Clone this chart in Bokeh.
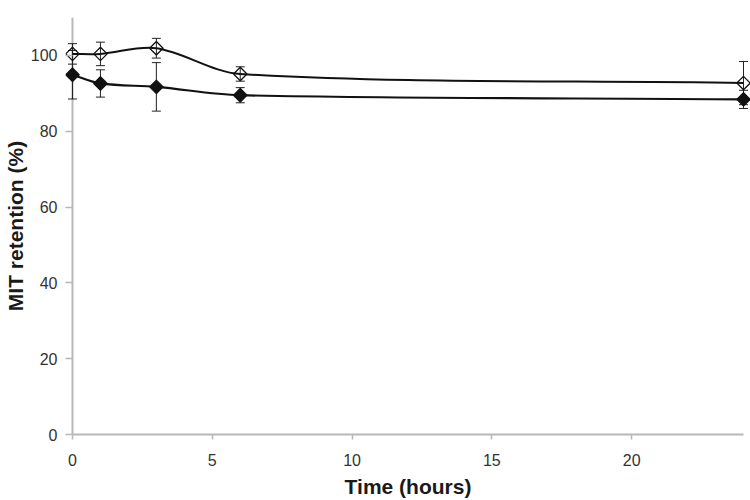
import numpy as np
from bokeh.plotting import figure
from bokeh.models import ColumnDataSource, Whisker, TeeHead, Range1d, Span
from bokeh.embed import file_html
from bokeh.resources import INLINE

# ---- data ----
time_h = [0, 1, 3, 6, 24]
open_mean = [100.4, 100.4, 101.9, 95.1, 92.7]
open_err = [2.7, 3.1, 2.6, 1.9, 5.7]
filled_mean = [94.9, 92.6, 91.7, 89.5, 88.4]
filled_err = [6.4, 3.6, 6.4, 2.0, 2.4]
x_ticks = [0, 5, 10, 15, 20]
y_ticks = [0, 20, 40, 60, 80, 100]

FONT = "Liberation Sans"
AXIS_GRAY = "#b8b8b8"


def smooth_segments(xs, ys):
    """Cubic Bezier segments (Hermite with finite-difference slopes)."""
    xs = np.asarray(xs, float)
    ys = np.asarray(ys, float)
    n = len(xs)
    m = np.zeros(n)
    for i in range(n):
        if i == 0:
            m[i] = (ys[1] - ys[0]) / (xs[1] - xs[0])
        elif i == n - 1:
            m[i] = (ys[-1] - ys[-2]) / (xs[-1] - xs[-2])
        else:
            m[i] = (ys[i + 1] - ys[i - 1]) / (xs[i + 1] - xs[i - 1])
    h = xs[1:] - xs[:-1]
    return dict(
        x0=xs[:-1], y0=ys[:-1], x1=xs[1:], y1=ys[1:],
        cx0=xs[:-1] + h / 3, cy0=ys[:-1] + m[:-1] * h / 3,
        cx1=xs[1:] - h / 3, cy1=ys[1:] - m[1:] * h / 3,
    )


p = figure(width=750, height=500, output_backend="svg", toolbar_location=None,
           x_range=Range1d(-0.25, 24.25), y_range=Range1d(0, 110),
           min_border_left=0, min_border_right=0, min_border_top=17, min_border_bottom=0)
p.outline_line_color = None
p.xgrid.grid_line_color = None
p.ygrid.grid_line_color = None
p.background_fill_color = "white"
p.border_fill_color = "white"

for ax in (p.xaxis[0], p.yaxis[0]):
    ax.axis_line_color = AXIS_GRAY
    ax.axis_line_width = 2
    ax.major_tick_line_color = AXIS_GRAY
    ax.major_tick_line_width = 1.5
    ax.major_tick_out = 5
    ax.major_tick_in = 0
    ax.minor_tick_line_color = None
    ax.major_label_text_font = FONT
    ax.major_label_text_font_size = "16px"
    ax.major_label_text_color = "#333333"
    ax.axis_label_text_font = FONT
    ax.axis_label_text_font_size = "21px"
    ax.axis_label_text_font_style = "bold"
    ax.axis_label_text_color = "#1a1a1a"

p.xaxis.ticker = x_ticks
p.yaxis.ticker = y_ticks
p.xaxis.bounds = (0, 24)
p.xaxis.axis_label = "Time (hours)"
p.yaxis.axis_label = "MIT retention (%)"
p.xaxis.major_label_standoff = 14
p.xaxis.axis_label_standoff = 6

# y axis: ticks drawn inward up to the x = 0 line, which is drawn as a span
p.yaxis.axis_line_color = None
p.yaxis.major_tick_out = 0
p.yaxis.major_tick_in = 7
p.yaxis.major_label_standoff = 8
p.yaxis.axis_label_standoff = 1
p.add_layout(Span(location=0, dimension="height", line_color=AXIS_GRAY,
                  line_width=2, level="underlay"))

# error bars
for mean, err in ((open_mean, open_err), (filled_mean, filled_err)):
    src = ColumnDataSource(dict(
        x=time_h,
        upper=[m + e for m, e in zip(mean, err)],
        lower=[m - e for m, e in zip(mean, err)],
    ))
    w = Whisker(source=src, base="x", upper="upper", lower="lower",
                line_color="#222222", line_width=1, level="underlay",
                upper_head=TeeHead(size=9, line_color="#222222", line_width=1),
                lower_head=TeeHead(size=9, line_color="#222222", line_width=1))
    p.add_layout(w)

# smoothed lines
p.bezier(source=ColumnDataSource(smooth_segments(time_h, open_mean)),
         x0="x0", y0="y0", x1="x1", y1="y1", cx0="cx0", cy0="cy0", cx1="cx1", cy1="cy1",
         line_color="#111111", line_width=2)
p.bezier(source=ColumnDataSource(smooth_segments(time_h, filled_mean)),
         x0="x0", y0="y0", x1="x1", y1="y1", cx0="cx0", cy0="cy0", cx1="cx1", cy1="cy1",
         line_color="#111111", line_width=2.2)

# markers
p.scatter(time_h, open_mean, marker="square", angle=np.pi / 4, size=9.5,
          fill_color=None, line_color="#111111", line_width=1.3)
p.scatter(time_h, filled_mean, marker="square", angle=np.pi / 4, size=9.5,
          fill_color="#111111", line_color="#111111", line_width=1.3)

open("out.html", "w").write(file_html(p, INLINE))
